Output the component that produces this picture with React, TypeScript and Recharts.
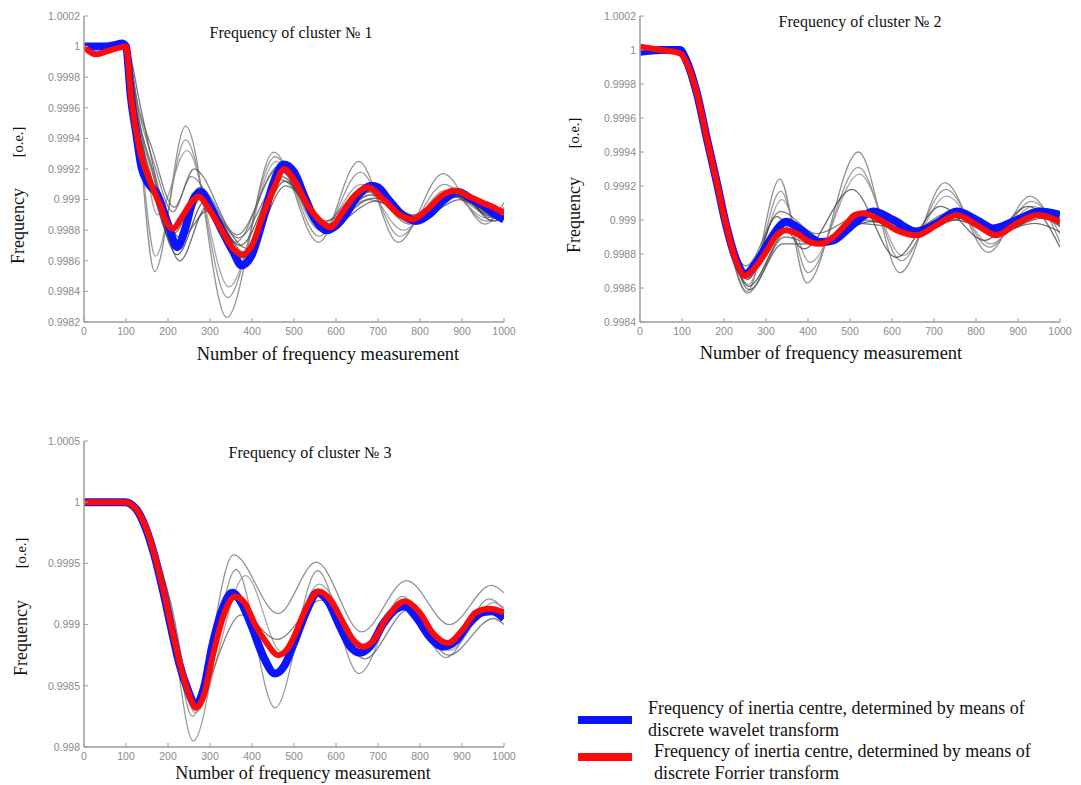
import React from "react";
import { LineChart, Line, XAxis, YAxis } from "recharts";

type Pt = [number, number];

const X_TICKS = [0, 100, 200, 300, 400, 500, 600, 700, 800, 900, 1000];
const Y_TICKS_1 = [0.9982, 0.9984, 0.9986, 0.9988, 0.999, 0.9992, 0.9994, 0.9996, 0.9998, 1, 1.0002];
const Y_TICKS_2 = [0.9984, 0.9986, 0.9988, 0.999, 0.9992, 0.9994, 0.9996, 0.9998, 1, 1.0002];
const Y_TICKS_3 = [0.998, 0.9985, 0.999, 0.9995, 1, 1.0005];

// cluster 1
const wavelet1: Pt[] = [
  [0, 1], [25, 1], [50, 1], [75, 1.00001], [90, 1.00002], [100, 1], [112, 0.99966], [125, 0.99942],
  [137, 0.99921], [150, 0.99912], [175, 0.99903], [200, 0.99884], [222, 0.99869], [242, 0.99882],
  [260, 0.999], [278, 0.99905], [296, 0.99898], [328, 0.9988], [355, 0.99866], [375, 0.99857],
  [398, 0.99863], [425, 0.99886], [450, 0.9991], [475, 0.99923], [500, 0.99918], [525, 0.99902],
  [550, 0.99887], [578, 0.9988], [600, 0.99883], [625, 0.99891], [650, 0.99902], [685, 0.99909],
  [700, 0.99908], [725, 0.999], [750, 0.99892], [790, 0.99886], [825, 0.99891], [850, 0.99898],
  [890, 0.99905], [925, 0.999], [950, 0.99896], [975, 0.99891], [1000, 0.99887],
];
const fourier1: Pt[] = [
  [0, 1], [12, 0.99997], [30, 0.99995], [55, 0.99997], [80, 0.99999], [100, 1], [113, 0.99965],
  [133, 0.99932], [156, 0.99913], [180, 0.99897], [199, 0.99884], [211, 0.99881], [234, 0.99889],
  [258, 0.99899], [273, 0.99902], [297, 0.99894], [328, 0.9988], [355, 0.99868], [375, 0.99864],
  [398, 0.99869], [425, 0.99889], [453, 0.99908], [477, 0.9992], [500, 0.99913], [531, 0.99897],
  [559, 0.99887], [587, 0.99882], [614, 0.99891], [646, 0.99903], [677, 0.99908], [713, 0.999],
  [752, 0.9989], [780, 0.99887], [815, 0.99893], [854, 0.99903], [882, 0.99906], [917, 0.99902],
  [949, 0.99898], [975, 0.99895], [1000, 0.99891],
];
const runs1: Pt[][] = [
  [[0, 1], [100, 1], [125, 0.99955], [168, 0.99853], [242, 0.99948], [340, 0.99823], [452, 0.99931], [558, 0.99872], [654, 0.99925], [748, 0.99872], [855, 0.99917], [955, 0.99884], [1000, 0.99898]],
  [[0, 1], [100, 1], [125, 0.99957], [170, 0.99863], [242, 0.99939], [342, 0.99836], [455, 0.99928], [560, 0.99876], [658, 0.99918], [752, 0.99876], [858, 0.9991], [958, 0.99886], [1000, 0.99895]],
  [[0, 1], [100, 1], [130, 0.99955], [175, 0.9989], [245, 0.99932], [345, 0.99843], [458, 0.99925], [562, 0.9988], [660, 0.9991], [760, 0.9988], [860, 0.99906], [960, 0.99888], [1000, 0.99893]],
  [[0, 1], [100, 1], [130, 0.9996], [160, 0.99935], [215, 0.99895], [262, 0.9992], [365, 0.99877], [465, 0.99922], [565, 0.99884], [670, 0.99908], [775, 0.99884], [875, 0.99904], [975, 0.9989], [1000, 0.99892]],
  [[0, 1], [100, 1], [130, 0.99958], [165, 0.99925], [212, 0.99892], [255, 0.99915], [360, 0.99872], [462, 0.9992], [567, 0.99881], [672, 0.99905], [778, 0.99886], [878, 0.99902], [978, 0.99888], [1000, 0.9989]],
  [[0, 1], [100, 1], [125, 0.99953], [160, 0.99915], [222, 0.99864], [288, 0.99899], [378, 0.99862], [472, 0.99918], [578, 0.99878], [688, 0.99906], [790, 0.99886], [890, 0.99905], [975, 0.99886], [1000, 0.99888]],
  [[0, 1], [100, 1], [125, 0.99952], [160, 0.9991], [218, 0.9987], [282, 0.99902], [372, 0.9987], [470, 0.99915], [575, 0.99881], [682, 0.99903], [785, 0.99888], [885, 0.99903], [975, 0.99889], [1000, 0.99891]],
  [[0, 1], [100, 1], [128, 0.99955], [165, 0.99918], [228, 0.9986], [292, 0.99895], [385, 0.99865], [478, 0.99912], [580, 0.99884], [690, 0.99901], [795, 0.99889], [892, 0.99902], [980, 0.99891], [1000, 0.99892]],
  [[0, 1], [100, 1], [125, 0.99956], [160, 0.9992], [215, 0.99878], [275, 0.99908], [368, 0.99875], [468, 0.99913], [572, 0.99886], [680, 0.999], [782, 0.9989], [882, 0.99902], [975, 0.99892], [1000, 0.99894]],
  [[0, 1], [100, 1], [135, 0.9996], [175, 0.9991], [230, 0.99875], [295, 0.99893], [390, 0.99868], [480, 0.99909], [585, 0.99883], [695, 0.99899], [800, 0.99888], [895, 0.999], [985, 0.9989], [1000, 0.99891]],
];

// cluster 2
const wavelet2: Pt[] = [
  [0, 0.99999], [50, 1], [95, 1], [110, 0.99994], [135, 0.99975], [160, 0.99947], [183, 0.99922],
  [206, 0.99896], [230, 0.99876], [250, 0.99868], [274, 0.99874], [302, 0.99885], [325, 0.99894],
  [348, 0.99899], [373, 0.99896], [405, 0.9989], [430, 0.99887], [460, 0.99888], [492, 0.99894],
  [515, 0.99899], [556, 0.99905], [603, 0.999], [659, 0.99893], [706, 0.99898], [754, 0.99905],
  [802, 0.999], [841, 0.99895], [897, 0.999], [952, 0.99905], [1000, 0.99903],
];
const fourier2: Pt[] = [
  [0, 1.00002], [50, 1], [95, 0.99998], [110, 0.99993], [135, 0.99975], [160, 0.99947], [183, 0.99922],
  [206, 0.99896], [230, 0.99875], [250, 0.99867], [274, 0.99872], [302, 0.99882], [325, 0.99891],
  [348, 0.99894], [373, 0.99892], [405, 0.99887], [430, 0.99886], [460, 0.9989], [492, 0.99898],
  [512, 0.99903], [532, 0.99904], [571, 0.999], [611, 0.99894], [659, 0.99891], [706, 0.99897],
  [754, 0.99903], [802, 0.99897], [849, 0.99891], [897, 0.99898], [948, 0.99903], [1000, 0.99899],
];
const runs2: Pt[][] = [
  [[0, 1], [100, 1], [135, 0.99975], [160, 0.99945], [206, 0.99893], [255, 0.99858], [333, 0.99924], [397, 0.99863], [520, 0.9994], [619, 0.99869], [726, 0.99922], [829, 0.99881], [929, 0.99914], [1000, 0.99887]],
  [[0, 1], [100, 1], [135, 0.99974], [160, 0.99946], [206, 0.99895], [258, 0.99862], [335, 0.99917], [400, 0.99869], [520, 0.99931], [622, 0.99876], [728, 0.99918], [832, 0.99884], [932, 0.99911], [1000, 0.99892]],
  [[0, 1], [100, 1], [138, 0.99976], [165, 0.99944], [210, 0.99895], [260, 0.99866], [338, 0.99912], [405, 0.99875], [522, 0.99927], [625, 0.99879], [730, 0.99914], [835, 0.99886], [935, 0.99908], [1000, 0.99896]],
  [[0, 1], [100, 1], [135, 0.99974], [160, 0.99946], [206, 0.99897], [252, 0.99873], [335, 0.99905], [420, 0.99892], [530, 0.99903], [635, 0.99892], [735, 0.99904], [840, 0.99892], [940, 0.99903], [1000, 0.99896]],
  [[0, 1], [100, 1], [132, 0.99973], [158, 0.99945], [205, 0.99892], [255, 0.99857], [345, 0.9989], [425, 0.99885], [540, 0.999], [660, 0.99892], [760, 0.99902], [860, 0.99892], [950, 0.99902], [1000, 0.99897]],
  [[0, 1], [100, 1], [135, 0.99975], [160, 0.99947], [208, 0.99894], [258, 0.99861], [350, 0.99893], [430, 0.99887], [550, 0.99899], [665, 0.99893], [765, 0.99901], [865, 0.99894], [955, 0.99901], [1000, 0.99898]],
  [[0, 1], [100, 1], [135, 0.99975], [162, 0.99946], [208, 0.99897], [256, 0.99865], [325, 0.99902], [390, 0.99883], [505, 0.99918], [610, 0.99878], [715, 0.99908], [820, 0.99888], [925, 0.99908], [1000, 0.99884]],
  [[0, 1], [100, 1], [135, 0.99974], [160, 0.99944], [210, 0.9989], [260, 0.99859], [340, 0.99886], [410, 0.99886], [520, 0.99898], [640, 0.99895], [750, 0.999], [850, 0.99893], [940, 0.99898], [1000, 0.99893]],
];

// cluster 3
const wavelet3: Pt[] = [
  [0, 1], [50, 1], [98, 1], [125, 0.99994], [149, 0.99977], [168, 0.99956], [188, 0.99928],
  [207, 0.99898], [227, 0.99868], [247, 0.99847], [266, 0.99834], [286, 0.99849], [305, 0.99882],
  [329, 0.99912], [353, 0.99926], [376, 0.99917], [400, 0.99898], [427, 0.99874], [455, 0.9986],
  [478, 0.99867], [500, 0.99885], [531, 0.99912], [555, 0.99926], [579, 0.9992], [610, 0.99898],
  [634, 0.99882], [657, 0.99877], [681, 0.99882], [713, 0.99901], [744, 0.99913], [764, 0.99915],
  [791, 0.99906], [823, 0.9989], [854, 0.99882], [886, 0.99887], [917, 0.99901], [949, 0.9991],
  [972, 0.99911], [1000, 0.99905],
];
const fourier3: Pt[] = [
  [0, 1], [50, 1], [98, 1], [125, 0.99994], [149, 0.99978], [168, 0.99957], [188, 0.9993],
  [207, 0.999], [227, 0.9987], [247, 0.99846], [266, 0.99832], [286, 0.99843], [305, 0.99872],
  [329, 0.99904], [360, 0.99923], [384, 0.99917], [406, 0.99901], [435, 0.99885], [462, 0.99875],
  [486, 0.99881], [500, 0.9989], [531, 0.99915], [559, 0.99927], [587, 0.9992], [618, 0.99901],
  [642, 0.99887], [665, 0.99882], [689, 0.99887], [720, 0.99905], [764, 0.99919], [799, 0.9991],
  [831, 0.99893], [866, 0.99885], [902, 0.99896], [933, 0.9991], [965, 0.99913], [1000, 0.9991],
];
const runs3: Pt[][] = [
  [[0, 1], [100, 1], [150, 0.99978], [200, 0.99925], [258, 0.99825], [356, 0.99957], [462, 0.99909], [553, 0.99951], [661, 0.99894], [768, 0.99936], [870, 0.999], [970, 0.99932], [1000, 0.99926]],
  [[0, 1], [100, 1], [150, 0.99976], [200, 0.99918], [260, 0.99805], [362, 0.99945], [455, 0.99832], [556, 0.99944], [655, 0.9986], [758, 0.99923], [862, 0.99873], [965, 0.99921], [1000, 0.99912]],
  [[0, 1], [100, 1], [150, 0.99977], [205, 0.99915], [265, 0.99828], [385, 0.9994], [470, 0.99878], [560, 0.99933], [665, 0.99884], [770, 0.99917], [870, 0.99879], [975, 0.99918], [1000, 0.99914]],
  [[0, 1], [100, 1], [150, 0.99977], [205, 0.9992], [262, 0.99838], [375, 0.99908], [460, 0.99888], [565, 0.9992], [668, 0.99872], [772, 0.99912], [868, 0.99875], [975, 0.99905], [1000, 0.999]],
];

const RUN_TONES = ["#6e6e6e", "#7a7a7a", "#8a8a8a", "#5c5c5c", "#666", "#2e2e2e", "#3a3a3a", "#444", "#555", "#4a4a4a"];
const SERIF = '"Liberation Serif", "Times New Roman", serif';
const SANS = '"Liberation Sans", Arial, sans-serif';

const toRows = (pts: Pt[]) => pts.map(([x, y]) => ({ x, y }));

type PanelProps = {
  left: number;
  top: number;
  yTicks: number[];
  domain: [number, number];
  wavelet: Pt[];
  fourier: Pt[];
  runs: Pt[][];
};

const tickStyle = { fill: "#8a8a8a", fontSize: 10.5, fontFamily: SANS };

const Panel = ({ left, top, yTicks, domain, wavelet, fourier, runs }: PanelProps) => (
  <div style={{ position: "absolute", left, top }}>
    <LineChart width={530} height={370} margin={{ top: 16, right: 26, bottom: 18, left: 24 }}>
      <XAxis
        type="number"
        dataKey="x"
        domain={[0, 1000]}
        ticks={X_TICKS}
        interval={0}
        allowDataOverflow
        height={30}
        tickSize={-4}
        tickMargin={10}
        tick={tickStyle}
        axisLine={{ stroke: "#9c9c9c", strokeWidth: 1.5 }}
        tickLine={{ stroke: "#9c9c9c" }}
      />
      <YAxis
        type="number"
        domain={domain}
        ticks={yTicks}
        interval={0}
        allowDataOverflow
        width={60}
        tickSize={-4}
        tickMargin={8}
        tick={tickStyle}
        axisLine={{ stroke: "#9c9c9c", strokeWidth: 1.5 }}
        tickLine={{ stroke: "#9c9c9c" }}
      />
      {runs.map((run, i) => (
        <Line
          key={i}
          data={toRows(run)}
          dataKey="y"
          type="monotone"
          stroke={RUN_TONES[i % RUN_TONES.length]}
          strokeOpacity={0.75}
          strokeWidth={1.3}
          dot={false}
          activeDot={false}
          isAnimationActive={false}
        />
      ))}
      <Line
        data={toRows(wavelet)}
        dataKey="y"
        type="monotone"
        stroke="#0a14ff"
        strokeWidth={8}
        dot={false}
        activeDot={false}
        isAnimationActive={false}
      />
      <Line
        data={toRows(fourier)}
        dataKey="y"
        type="monotone"
        stroke="#ff0a0a"
        strokeWidth={6}
        dot={false}
        activeDot={false}
        isAnimationActive={false}
      />
    </LineChart>
  </div>
);

type CaptionProps = { x: number; y: number; size: number; rotate?: boolean; children: React.ReactNode };

const Caption = ({ x, y, size, rotate, children }: CaptionProps) => (
  <div
    style={{
      position: "absolute",
      left: x,
      top: y,
      fontSize: size,
      fontFamily: SERIF,
      color: "#111",
      whiteSpace: "nowrap",
      lineHeight: 1,
      transform: rotate ? "translate(-50%, -50%) rotate(-90deg)" : "translate(-50%, -50%)",
    }}
  >
    {children}
  </div>
);

const legendText = {
  position: "absolute" as const,
  fontFamily: SERIF,
  fontSize: 18,
  lineHeight: "22px",
  color: "#111",
  whiteSpace: "nowrap" as const,
};

const App = () => (
  <div style={{ position: "absolute", left: 0, top: 0, width: 1081, height: 785, background: "#fff", overflow: "hidden" }}>
    <Panel left={0} top={0} yTicks={Y_TICKS_1} domain={[0.9982, 1.0002]} wavelet={wavelet1} fourier={fourier1} runs={runs1} />
    <Panel left={556} top={0} yTicks={Y_TICKS_2} domain={[0.9984, 1.0002]} wavelet={wavelet2} fourier={fourier2} runs={runs2} />
    <Panel left={0} top={425} yTicks={Y_TICKS_3} domain={[0.998, 1.0005]} wavelet={wavelet3} fourier={fourier3} runs={runs3} />

    <Caption x={291} y={33} size={16}>Frequency of cluster № 1</Caption>
    <Caption x={860} y={22} size={16}>Frequency of cluster № 2</Caption>
    <Caption x={310} y={453} size={16}>Frequency of cluster № 3</Caption>

    <Caption x={328} y={354} size={18.5}>Number of frequency measurement</Caption>
    <Caption x={831} y={353} size={18.5}>Number of frequency measurement</Caption>
    <Caption x={303} y={773} size={18}>Number of frequency measurement</Caption>

    <Caption x={18} y={226} size={18} rotate>Frequency</Caption>
    <Caption x={18} y={142} size={14.5} rotate>[o.e.]</Caption>
    <Caption x={574} y={215} size={18} rotate>Frequency</Caption>
    <Caption x={574} y={133} size={14.5} rotate>[o.e.]</Caption>
    <Caption x={21} y={638} size={18} rotate>Frequency</Caption>
    <Caption x={21} y={553} size={14.5} rotate>[o.e.]</Caption>

    <div style={{ position: "absolute", left: 578, top: 716, width: 54, height: 8, background: "#0a14ff" }} />
    <div style={{ position: "absolute", left: 578, top: 753, width: 54, height: 8, background: "#ff0a0a" }} />
    <div style={{ ...legendText, left: 648, top: 697 }}>
      Frequency of inertia centre, determined by means of
      <br />
      discrete wavelet transform
    </div>
    <div style={{ ...legendText, left: 654, top: 740 }}>
      Frequency of inertia centre, determined by means of
      <br />
      discrete Forrier transform
    </div>
  </div>
);

export default App;
